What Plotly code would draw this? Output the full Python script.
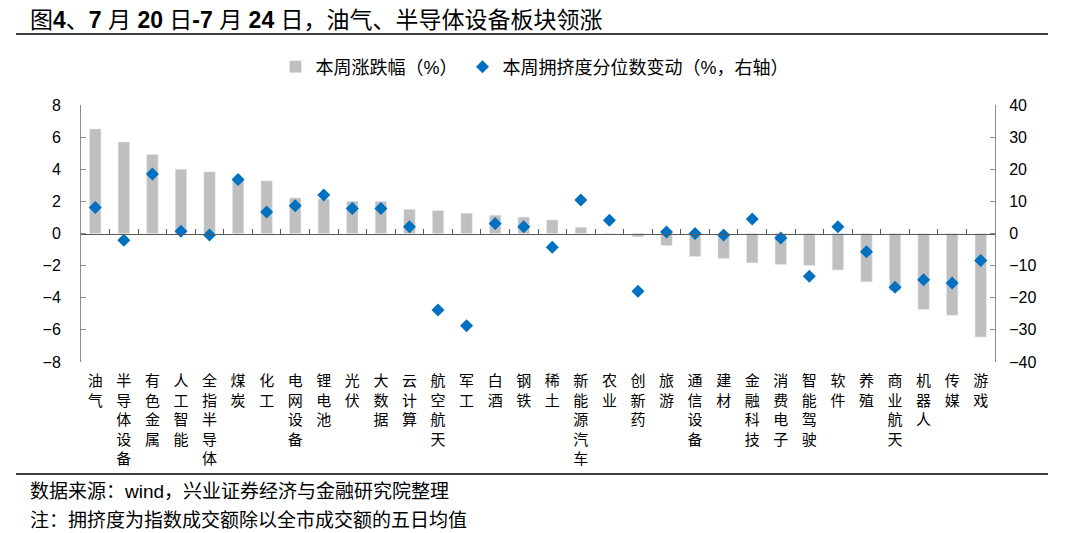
# 7/20-7/24 sector performance vs crowding change
import plotly.graph_objects as go

# =============================================================================
# DATA
# =============================================================================

sectors = [
    '油气', '半导体设备', '有色金属', '人工智能', '全指半导体', '煤炭', '化工', '电网设备',
    '锂电池', '光伏', '大数据', '云计算', '航空航天', '军工', '白酒', '钢铁',
    '稀土', '新能源汽车', '农业', '创新药', '旅游', '通信设备', '建材', '金融科技',
    '消费电子', '智能驾驶', '软件', '养殖', '商业航天', '机器人', '传媒', '游戏'
]

# weekly change (%), left axis
weekly_change = [
    6.5, 5.7, 4.92, 4.0, 3.84, 3.4, 3.28, 2.22,
    2.15, 2.01, 2.0, 1.51, 1.43, 1.26, 1.14, 1.02,
    0.85, 0.39, 0.03, -0.21, -0.75, -1.43, -1.56, -1.83,
    -1.93, -1.99, -2.27, -3.01, -3.55, -4.73, -5.09, -6.44
]

# crowding percentile change (%), right axis
crowding_change = [
    8.1, -2.1, 18.5, 0.7, -0.5, 16.8, 6.7, 8.6,
    12.0, 7.8, 7.8, 2.1, -23.8, -28.7, 3.1, 2.1,
    -4.3, 10.4, 4.1, -18.0, 0.5, 0.0, -0.5, 4.5,
    -1.4, -13.3, 2.1, -5.7, -16.7, -14.4, -15.4, -8.4
]

left_ticks = [8, 6, 4, 2, 0, -2, -4, -6, -8]
right_ticks = [40, 30, 20, 10, 0, -10, -20, -30, -40]

# vertical (stacked) labels
tick_text = ['<br>'.join(list(s)) for s in sectors]

# =============================================================================
# FIGURE
# =============================================================================

FONT = "Liberation Sans, Arial, Noto Sans CJK SC"
AXIS_GRAY = "#8C8C8C"
W, H = 1080, 533
OFF = 8  # page body margin shifts the figure by this much

# plot area in screen pixels
PL, PR, PT, PB = 81, 995, 105, 362
ML, MT = PL - OFF, PT - OFF
MR, MB = W - (PR - OFF), H - (PB - OFF)
PW, PH = PR - PL, PB - PT


def px_x(p):
    return (p - PL) / PW


def px_y(p):
    return (PB - p) / PH


fig = go.Figure()

fig.add_trace(go.Bar(
    x=sectors, y=weekly_change, name='本周涨跌幅（%）',
    marker_color='#BFBFBF', width=0.4,
    xaxis='x', yaxis='y'
))

fig.add_trace(go.Scatter(
    x=sectors, y=crowding_change, name='本周拥挤度分位数变动（%，右轴）',
    mode='markers', marker=dict(symbol='diamond', size=10, color='#0070C0'),
    xaxis='x2', yaxis='y2'
))

cat_range = [-0.5, len(sectors) - 0.5]

fig.update_layout(
    width=W, height=H,
    margin=dict(l=ML, r=MR, t=MT, b=MB),
    plot_bgcolor='#FFFFFF', paper_bgcolor='#FFFFFF',
    font=dict(family=FONT, size=15, color='#000000'),
    showlegend=True,
    legend=dict(
        orientation='h', x=px_x(535), xanchor='center',
        y=px_y(67), yanchor='middle',
        font=dict(size=18, color='#000000'),
        itemwidth=30, tracegroupgap=0
    ),
    title=dict(
        text='图<b>4</b>、<b>7</b> 月 <b>20</b> 日<b>-7</b> 月 <b>24</b> 日，油气、半导体设备板块领涨',
        xref='container', yref='container',
        x=(30 - OFF) / W, xanchor='left', y=1 - (20 - OFF) / H, yanchor='middle',
        font=dict(size=23, color='#000000', family=FONT)
    ),
    xaxis=dict(
        type='category', categoryorder='array', categoryarray=sectors,
        range=cat_range, tickmode='array', tickvals=sectors, ticktext=tick_text,
        showline=False, ticks='', showgrid=False, zeroline=False,
        tickangle=0, tickfont=dict(size=15, color='#000000'),
        ticklabelstandoff=8
    ),
    xaxis2=dict(
        type='category', categoryorder='array', categoryarray=sectors,
        range=cat_range, overlaying='x', anchor='free', position=0.5,
        showticklabels=False, showline=True, linecolor='#595959', linewidth=1,
        ticks='inside', tickson='boundaries', ticklen=5, tickcolor='#595959',
        showgrid=False, zeroline=False
    ),
    yaxis=dict(
        range=[-8, 8], tickvals=left_ticks, showgrid=False, zeroline=False,
        showline=True, linecolor=AXIS_GRAY, linewidth=1,
        ticks='inside', ticklen=5, tickcolor=AXIS_GRAY,
        tickfont=dict(size=16, color='#000000'), ticklabelstandoff=16
    ),
    yaxis2=dict(
        range=[-40, 40], tickvals=right_ticks, overlaying='y', side='right',
        anchor='x2', showgrid=False, zeroline=False,
        showline=True, linecolor=AXIS_GRAY, linewidth=1,
        ticks='inside', ticklen=5, tickcolor=AXIS_GRAY,
        tickfont=dict(size=16, color='#000000'), ticklabelstandoff=10
    ),
)

# header and footer rules
for py in [34, 474]:
    fig.add_shape(
        type='line', xref='paper', yref='paper',
        x0=px_x(16), x1=px_x(1048), y0=px_y(py), y1=px_y(py),
        line=dict(color='#000000', width=1.5)
    )

notes = [
    ('数据来源：wind，兴业证券经济与金融研究院整理', 491),
    ('注：拥挤度为指数成交额除以全市成交额的五日均值', 520),
]
for txt, py in notes:
    fig.add_annotation(
        text=txt, xref='paper', yref='paper',
        x=px_x(28), y=px_y(py), xanchor='left', yanchor='middle',
        showarrow=False, font=dict(size=19, color='#000000', family=FONT)
    )

fig.write_html("out.html")
